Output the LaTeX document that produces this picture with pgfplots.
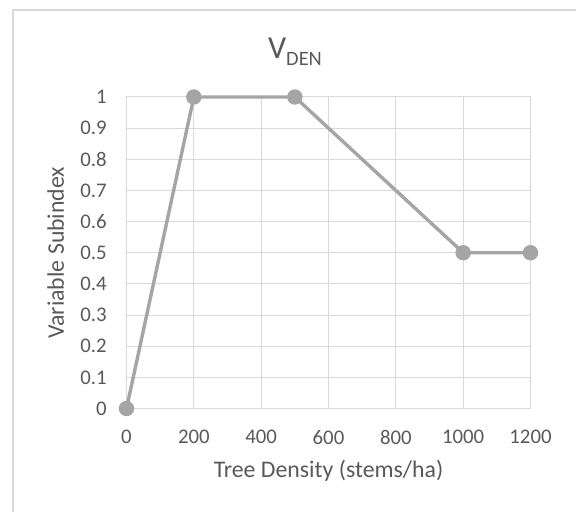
\documentclass[border=0pt]{standalone}
\usepackage{pgfplots}
\pgfplotsset{compat=1.18}
\usepackage{fontspec}
\setmainfont{Carlito}
\definecolor{gridc}{HTML}{D9D9D9}
\definecolor{txt}{HTML}{595959}
\definecolor{linec}{HTML}{A5A5A5}
\begin{document}
\begin{tikzpicture}
\useasboundingbox (0,0) rectangle (288pt,256pt);
\draw[gridc, line width=0.9pt] (6.5pt,-10pt) rectangle (288.5pt,251pt);
\begin{axis}[
  at={(63.25pt,51.75pt)}, anchor=south west,
  scale only axis, width=202pt, height=155.75pt,
  xmin=0, xmax=1200, ymin=0, ymax=1,
  xtick={0,200,...,1200}, ytick={0,0.1,...,1.0},
  grid=major, grid style={gridc, line width=0.5pt},
  axis line style={gridc, line width=0.5pt},
  major tick length=0pt,
  tick label style={font=\fontsize{10.4}{12}\selectfont, text=txt},
  /pgf/number format/assume math mode=true,
  yticklabel style={anchor=east, inner sep=0pt, xshift=-9.75pt},
  xticklabel style={anchor=north, inner sep=0pt, yshift=-10.75pt},
  yticklabel={\pgfmathprintnumber[fixed,precision=1]{\tick}},
  xticklabel={\pgfmathprintnumber[fixed,1000 sep={}]{\tick}},
  xlabel={Tree Density (stems/ha)},
  ylabel={Variable Subindex},
  label style={font=\fontsize{11.9}{14}\selectfont, text=txt},
  xlabel style={at={(axis description cs:0.5,-0.223)}, anchor=base},
  ylabel style={at={(axis description cs:-0.175,0.5)}, anchor=center},
  clip=false,
]
\addplot[linec, line width=1.7pt, mark=*, mark size=3pt, mark options={fill=linec, draw=linec}]
  coordinates {(0,0) (200,1) (500,1) (1000,0.5) (1200,0.5)};
\node[anchor=base, text=txt, inner sep=0pt] at (axis description cs:0.417,1.125)
  {\fontsize{16}{19}\selectfont V\raisebox{-3.5pt}{\fontsize{10.2}{12}\selectfont DEN}};
\end{axis}
\end{tikzpicture}
\end{document}
